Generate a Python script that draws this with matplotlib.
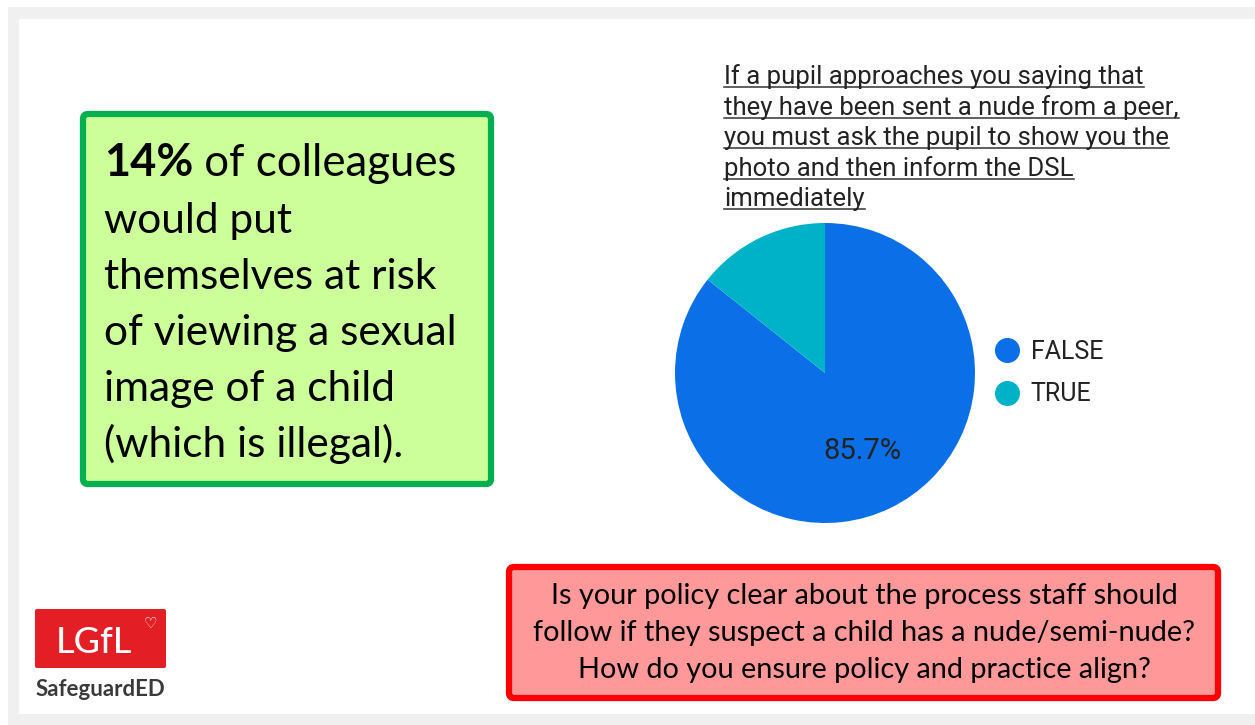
import matplotlib.pyplot as plt
from matplotlib.patches import FancyBboxPatch, Rectangle
from matplotlib.lines import Line2D

# pie data
labels = ['FALSE', 'TRUE']
values = [85.7, 14.3]
colors = ['#0b6fe8', '#00b2c7']

title_lines = ['If a pupil approaches you saying that',
               'they have been sent a nude from a peer,',
               'you must ask the pupil to show you the',
               'photo and then inform the DSL',
               'immediately']

green_first = ('14%', ' of colleagues')
green_lines = ['would put',
               'themselves at risk',
               'of viewing a sexual',
               'image of a child',
               '(which is illegal).']

red_lines = ['Is your policy clear about the process staff should',
             'follow if they suspect a child has a nude/semi-nude?',
             'How do you ensure policy and practice align?']

W, H = 1255, 725
fig = plt.figure(figsize=(W / 100, H / 100), dpi=100)
fig.patch.set_facecolor('white')

# background axes in pixel units (y down)
bg = fig.add_axes([0, 0, 1, 1])
bg.set_xlim(0, W)
bg.set_ylim(H, 0)
bg.axis('off')

bg.add_patch(Rectangle((8, 7), W, H, facecolor='#f0f0f0', edgecolor='none'))
bg.add_patch(Rectangle((19, 19), W, 695, facecolor='white', edgecolor='none'))

# green box
bg.add_patch(FancyBboxPatch((83, 114), 408, 370, boxstyle='round,pad=0,rounding_size=5',
                            facecolor='#ccff99', edgecolor='#00b050', linewidth=4.5))
t1 = bg.text(104, 176, green_first[0], fontsize=32.5, fontweight='bold',
             family='Lato', va='baseline', ha='left', color='black')
bg.annotate(green_first[1], xy=(1, 0), xycoords=t1, fontsize=31.5, family='Lato',
            va='bottom', ha='left', color='black')
for i, line in enumerate(green_lines):
    bg.text(104, 233 + 56 * i, line, fontsize=30.5, family='Lato',
            va='baseline', ha='left', color='black')

# red box
bg.add_patch(FancyBboxPatch((509, 567), 709, 131, boxstyle='round,pad=0,rounding_size=5',
                            facecolor='#ff9999', edgecolor='#ff0000', linewidth=4.5))
for i, line in enumerate(red_lines):
    bg.text(864, 604 + 37 * i, line, fontsize=20.8, family='Lato',
            va='baseline', ha='center', color='black')

# logo
bg.add_patch(FancyBboxPatch((35, 609), 131, 59, boxstyle='round,pad=0,rounding_size=2',
                            facecolor='#e31e24', edgecolor='none'))
bg.text(94, 653, 'LGfL', fontsize=26, family='Lato', fontweight='medium', color='white',
        va='baseline', ha='center')
bg.text(150, 628, '\u2661', fontsize=11, family='DejaVu Sans', color='white',
        va='baseline', ha='center')
bg.text(100, 696, 'SafeguardED', fontsize=16, family='Lato', fontweight='bold',
        color='#3a3a3a', va='baseline', ha='center')

# title, underlined
title_texts = []
for i, line in enumerate(title_lines):
    t = bg.text(724, 84 + 30.5 * i, line, fontsize=18.5, family='Roboto',
                va='baseline', ha='left', color='#222222')
    title_texts.append(t)

# pie
ax = fig.add_axes([675 / W, (H - 523) / H, 300 / W, 300 / H])
ax.pie(values, colors=colors, startangle=90, counterclock=False,
       autopct=lambda p: f'{p:.1f}%' if p > 50 else '', pctdistance=0.58,
       wedgeprops=dict(linewidth=0),
       textprops=dict(fontsize=21, family='Roboto', color='#222222'))
ax.set_xlim(-1, 1)
ax.set_ylim(-1, 1)

handles = [Line2D([], [], marker='o', linestyle='', markersize=17, color=c) for c in colors]
fig.legend(handles, labels, loc='center left', bbox_to_anchor=(972 / W, 1 - 373 / H),
           frameon=False, prop=dict(family='Roboto', size=18), handlelength=1.0,
           handletextpad=0.45, labelspacing=0.75, labelcolor='#222222')

fig.canvas.draw()
renderer = fig.canvas.get_renderer()
inv = bg.transData.inverted()
for i, t in enumerate(title_texts):
    bb = t.get_window_extent(renderer)
    x0 = inv.transform((bb.x0, bb.y0))[0]
    x1 = inv.transform((bb.x1, bb.y0))[0]
    y = 84 + 30.5 * i + 3
    bg.plot([x0, x1], [y, y], color='#333333', linewidth=1.1)

fig.savefig('out.png', dpi=100)
